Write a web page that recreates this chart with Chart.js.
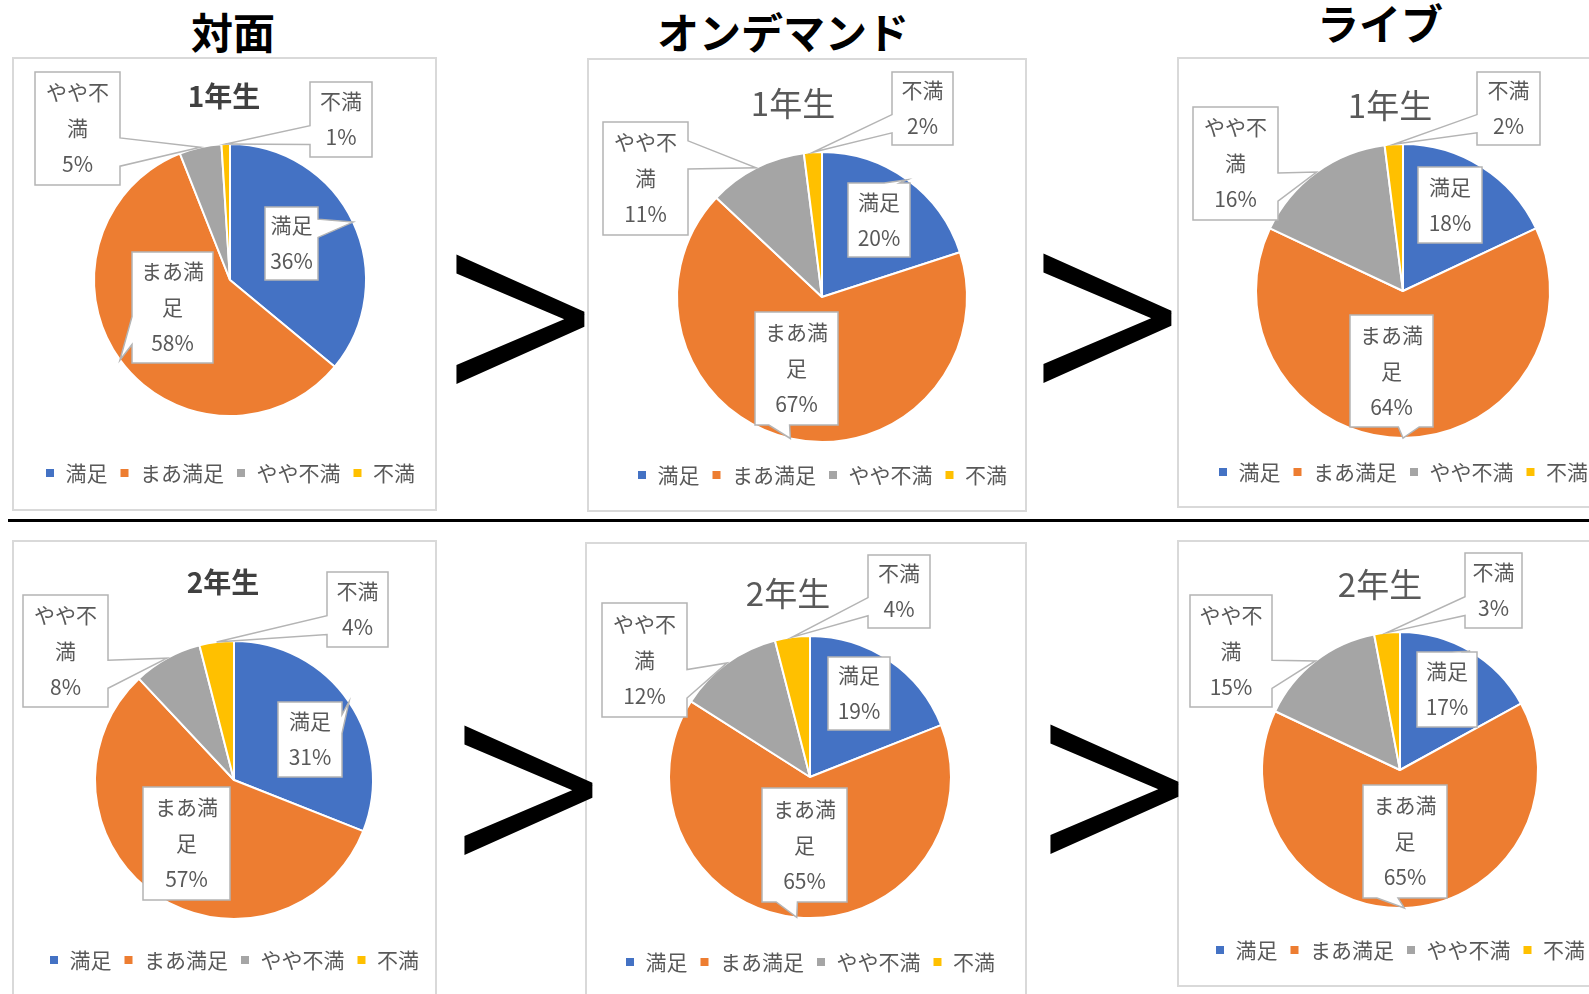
<!DOCTYPE html>
<html lang="ja">
<head>
<meta charset="utf-8">
<script src="https://cdn.jsdelivr.net/npm/chart.js@4.4.1/dist/chart.umd.min.js"></script>
<style>
  html, body { margin: 0; padding: 0; background: #fff; }
  body { width: 1589px; height: 994px; position: relative; overflow: hidden; font-family: 'Noto Sans CJK JP', sans-serif; }
  .panel { position: absolute; border: 2px solid #d9d9d9; box-sizing: border-box; }
  .chart-box { position: absolute; }
  .txt { position: absolute; transform: translate(-50%, -50%); line-height: 1; white-space: nowrap; }
  .head { font-size: 42px; font-weight: bold; color: #000; }
  .gt { position: absolute; transform: translate(-50%, -50%); line-height: 1; color: #000; z-index: 5;
        font-family: 'Roboto', sans-serif; font-weight: 300; font-size: 310px; }
  .rule { position: absolute; left: 8px; width: 1600px; top: 519px; height: 3px; background: #000; }
</style>
</head>
<body>
<div class="txt head" style="left:233px; top:31px;">対面</div>
<div class="txt head" style="left:783px; top:31px;">オンデマンド</div>
<div class="txt head" style="left:1380px; top:22px;">ライブ</div>
<div class="gt" style="left:518px; top:313px;">&gt;</div>
<div class="gt" style="left:1105px; top:312px;">&gt;</div>
<div class="gt" style="left:526px; top:784px;">&gt;</div>
<div class="gt" style="left:1112px; top:783px;">&gt;</div>
<div class="rule"></div>

<script>
// ---- data ----
const categories = ['満足', 'まあ満足', 'やや不満', '不満'];
const grades = ['1年生', '2年生'];

const taimen1 = [36, 58, 5, 1];
const ondemand1 = [20, 67, 11, 2];
const live1 = [18, 64, 16, 2];
const taimen2 = [31, 57, 8, 4];
const ondemand2 = [19, 65, 12, 4];
const live2 = [17, 65, 15, 3];

const sliceColors = ['#4472c4', '#ed7d31', '#a5a5a5', '#ffc000'];

// ---- layout of each panel (page px) ----
// boxes: callout box offset from pie centre [dx, dy, w, h] per category
const panels = [
  { values: taimen1, grade: 0, rect: [12, 57, 425, 454], center: [230, 280], r: 136, legendY: 473,
    title: { x: 224, y: 95, size: 28, weight: 'bold', color: '#404040' },
    boxes: [[35, -73, 53, 73], [-98, -28, 81, 111], [-195, -208, 85, 113], [80, -198, 62, 75]] },
  { values: ondemand1, grade: 0, rect: [587, 58, 440, 454], center: [822, 297], r: 145, legendY: 475,
    title: { x: 793, y: 102, size: 33, weight: 'normal', color: '#595959' },
    boxes: [[26, -114, 62, 74], [-67, 15, 83, 113], [-219, -175, 85, 113], [70, -225, 61, 73]] },
  { values: live1, grade: 0, rect: [1177, 57, 433, 451], center: [1403, 291], r: 147, legendY: 472,
    title: { x: 1390, y: 104, size: 33, weight: 'normal', color: '#595959' },
    boxes: [[15, -124, 64, 76], [-53, 24, 83, 112], [-210, -184, 85, 113], [74, -219, 63, 73]] },
  { values: taimen2, grade: 1, rect: [12, 540, 425, 460], center: [234, 780], r: 139, legendY: 960,
    title: { x: 223, y: 581, size: 28, weight: 'bold', color: '#404040' },
    boxes: [[44, -78, 64, 75], [-91, 7, 87, 113], [-211, -185, 85, 112], [93, -208, 61, 75]] },
  { values: ondemand2, grade: 1, rect: [585, 542, 442, 458], center: [810, 777], r: 141, legendY: 962,
    title: { x: 788, y: 592, size: 33, weight: 'normal', color: '#595959' },
    boxes: [[18, -120, 62, 73], [-48, 11, 85, 114], [-208, -174, 85, 114], [58, -222, 62, 73]] },
  { values: live2, grade: 1, rect: [1177, 540, 433, 447], center: [1400, 770], r: 138, legendY: 950,
    title: { x: 1380, y: 583, size: 33, weight: 'normal', color: '#595959' },
    boxes: [[17, -118, 60, 75], [-37, 15, 84, 113], [-210, -175, 82, 112], [65, -217, 57, 75]] }
];

Chart.defaults.font.family = "'Noto Sans CJK JP', sans-serif";

// wrap category names the way the callouts do (3 chars per line)
function wrapLabel(s) {
  const out = [];
  for (let i = 0; i < s.length; i += 3) out.push(s.slice(i, i + 3));
  return out;
}

// rectangle callout with a wedge pointing at (px, py)
function drawWedgeBox(ctx, l, t, w, h, px, py) {
  const r = l + w, b = t + h;
  const hc = l + w / 2, vc = t + h / 2;
  const dx = px - hc, dy = py - vc;
  const inside = px >= l && px <= r && py >= t && py <= b;
  const dz = Math.abs(dy) - Math.abs(dx * h / w);
  const x1 = l + w * (dx > 0 ? 7 : 2) / 12, x2 = l + w * (dx > 0 ? 10 : 5) / 12;
  const y1 = t + h * (dy > 0 ? 7 : 2) / 12, y2 = t + h * (dy > 0 ? 10 : 5) / 12;

  ctx.beginPath();
  ctx.moveTo(l, t);
  if (!inside && dz > 0 && dy < 0) { ctx.lineTo(x1, t); ctx.lineTo(px, py); ctx.lineTo(x2, t); }
  ctx.lineTo(r, t);
  if (!inside && dz <= 0 && dx > 0) { ctx.lineTo(r, y1); ctx.lineTo(px, py); ctx.lineTo(r, y2); }
  ctx.lineTo(r, b);
  if (!inside && dz > 0 && dy > 0) { ctx.lineTo(x2, b); ctx.lineTo(px, py); ctx.lineTo(x1, b); }
  ctx.lineTo(l, b);
  if (!inside && dz <= 0 && dx < 0) { ctx.lineTo(l, y2); ctx.lineTo(px, py); ctx.lineTo(l, y1); }
  ctx.closePath();
  ctx.fillStyle = '#ffffff';
  ctx.fill();
  ctx.strokeStyle = '#b4b4b4';
  ctx.lineWidth = 1.5;
  ctx.stroke();
}

const calloutPlugin = {
  id: 'callouts',
  afterDatasetsDraw(chart, args, opts) {
    const ctx = chart.ctx;
    const meta = chart.getDatasetMeta(0);
    const values = chart.data.datasets[0].data;
    ctx.save();
    meta.data.forEach((arc, i) => {
      const p = arc.getProps(['x', 'y', 'startAngle', 'endAngle', 'outerRadius'], true);
      const mid = (p.startAngle + p.endAngle) / 2;
      const tipX = p.x + Math.cos(mid) * p.outerRadius;
      const tipY = p.y + Math.sin(mid) * p.outerRadius;
      const [bx, by, bw, bh] = opts.boxes[i];
      const l = p.x + bx, t = p.y + by;
      drawWedgeBox(ctx, l, t, bw, bh, tipX, tipY);

      const lines = wrapLabel(chart.data.labels[i]).concat([values[i] + '%']);
      const step = 36;
      let y = t + bh / 2 - (lines.length - 1) * step / 2;
      ctx.fillStyle = '#595959';
      ctx.font = "21px 'Noto Sans CJK JP', sans-serif";
      ctx.textAlign = 'center';
      ctx.textBaseline = 'middle';
      lines.forEach((line) => {
        ctx.fillText(line, l + bw / 2, y);
        y += step;
      });
    });
    ctx.restore();
  }
};

const LEGEND_FONT = 21, LEGEND_PAD = 12;

panels.forEach((pn, idx) => {
  const [X, Y, W, H] = pn.rect;

  const border = document.createElement('div');
  border.className = 'panel';
  Object.assign(border.style, { left: X + 'px', top: Y + 'px', width: W + 'px', height: H + 'px' });
  document.body.appendChild(border);

  const box = document.createElement('div');
  box.className = 'chart-box';
  Object.assign(box.style, { left: X + 'px', top: Y + 'px', width: W + 'px', height: H + 'px' });
  const canvas = document.createElement('canvas');
  canvas.id = 'pie' + idx;
  box.appendChild(canvas);
  document.body.appendChild(box);

  const title = document.createElement('div');
  title.className = 'txt';
  title.textContent = grades[pn.grade];
  Object.assign(title.style, {
    left: pn.title.x + 'px', top: pn.title.y + 'px', fontSize: pn.title.size + 'px',
    fontWeight: pn.title.weight, color: pn.title.color
  });
  document.body.appendChild(title);

  // padding so the pie centre and legend line land where they belong
  const cx = pn.center[0] - X, cy = pn.center[1] - Y;
  const legendH = LEGEND_FONT + LEGEND_PAD + 10;
  const legendTop = (pn.legendY - Y) - (LEGEND_PAD + LEGEND_FONT / 2);
  const padB = H - legendTop - legendH;
  const padT = 2 * cy - legendTop;
  const diff = 2 * cx - W;

  new Chart(canvas, {
    type: 'pie',
    data: {
      labels: categories,
      datasets: [{
        data: pn.values,
        backgroundColor: sliceColors,
        borderColor: '#ffffff',
        borderWidth: 2,
        radius: pn.r
      }]
    },
    options: {
      responsive: true,
      maintainAspectRatio: false,
      animation: false,
      layout: {
        padding: { top: padT, bottom: padB, left: Math.max(diff, 0), right: Math.max(-diff, 0) }
      },
      plugins: {
        legend: {
          position: 'bottom',
          labels: {
            boxWidth: 10,
            boxHeight: 10,
            padding: LEGEND_PAD,
            color: '#595959',
            font: { size: LEGEND_FONT }
          }
        },
        tooltip: { enabled: false },
        callouts: { boxes: pn.boxes }
      }
    },
    plugins: [calloutPlugin]
  });
});
</script>
</body>
</html>
